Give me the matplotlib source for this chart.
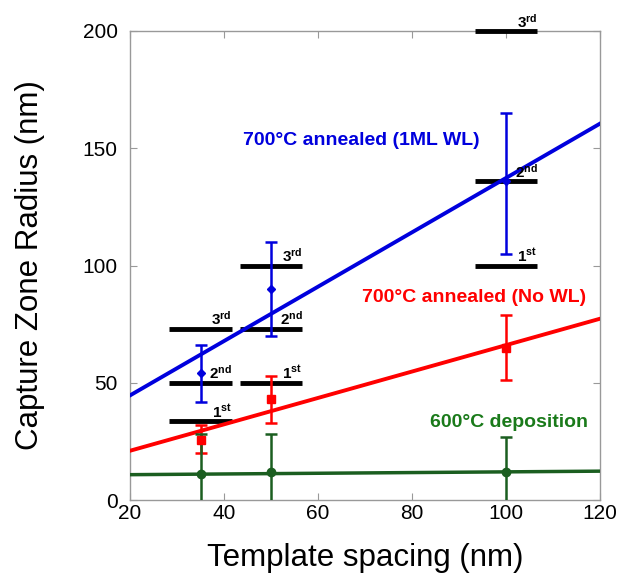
import numpy as np
import matplotlib
matplotlib.use('Agg')
import matplotlib.pyplot as plt

plt.rcParams['font.family'] = ['Liberation Sans', 'DejaVu Sans']
plt.rcParams['mathtext.fontset'] = 'custom'
plt.rcParams['mathtext.rm'] = 'Liberation Sans'
plt.rcParams['mathtext.bf'] = 'Liberation Sans:bold'

# data
spacing = [35, 50, 100]

wl_y = [54, 90, 136]
wl_lo = [42, 70, 105]
wl_hi = [66, 110, 165]

nowl_y = [25.5, 43, 65]
nowl_lo = [20, 33, 51]
nowl_hi = [32, 53, 79]

dep_y = [11, 12, 12]
dep_lo = [-2, -2, -2]
dep_hi = [28, 28, 27]

# linear fits (end points read at x=20 and x=120)
fit_x = [20, 120]
wl_fit = [44.6, 160.5]
nowl_fit = [21, 77.3]
dep_fit = [10.8, 12.3]

# neighbour shell radii for each spacing: 1st, 2nd, 3rd
shells = {35: [33.5, 50, 73], 50: [50, 73, 100], 100: [100, 136, 200]}
shell_names = ['1', '2', '3']
shell_sup = ['st', 'nd', 'rd']

blue = '#0000dd'
red = '#ff0000'
green_line = '#1b5e20'
green_text = '#1a7a1a'

fig = plt.figure(figsize=(6.21, 5.82), dpi=100)
ax = fig.add_axes([130/621, 82/582, 470/621, 469/582])

half = 6.7
for x, ys in shells.items():
    for k, y in enumerate(ys):
        ax.plot([x - half, x + half], [y, y], color='black', lw=3.5,
                solid_capstyle='butt', zorder=2.6, clip_on=False)
        ax.text(x + half, y + 1.6,
                r'$\mathbf{%s^{%s}}$' % (shell_names[k], shell_sup[k]),
                ha='right', va='baseline', fontsize=11, color='black', zorder=5)

def err(y, lo, hi):
    y = np.array(y); return [y - np.array(lo), np.array(hi) - y]

ax.plot(fit_x, wl_fit, color=blue, lw=2.8, zorder=3)
ax.plot(fit_x, nowl_fit, color=red, lw=2.8, zorder=3)
ax.plot(fit_x, dep_fit, color=green_line, lw=2.5, zorder=3)

ax.errorbar(spacing, wl_y, yerr=err(wl_y, wl_lo, wl_hi), fmt='D', ms=4,
            color=blue, ecolor=blue, elinewidth=1.8, capsize=4, capthick=1.8, zorder=4)
ax.errorbar(spacing, nowl_y, yerr=err(nowl_y, nowl_lo, nowl_hi), fmt='s', ms=6,
            color=red, ecolor=red, elinewidth=1.8, capsize=4, capthick=1.8, zorder=4)
ax.errorbar(spacing, dep_y, yerr=err(dep_y, dep_lo, dep_hi), fmt='o', ms=6,
            color=green_line, ecolor=green_line, elinewidth=1.8, capsize=4, capthick=1.8, zorder=4)

ax.text(44, 153.5, '700°C annealed (1ML WL)', color=blue, fontsize=14,
        fontweight='bold', va='center', ha='left')
ax.text(69.3, 86.5, '700°C annealed (No WL)', color=red, fontsize=14,
        fontweight='bold', va='center', ha='left')
ax.text(83.8, 33, '600°C deposition', color=green_text, fontsize=14,
        fontweight='bold', va='center', ha='left')

ax.set_xlim(20, 120)
ax.set_ylim(0, 200)
ax.set_xticks([20, 40, 60, 80, 100, 120])
ax.set_yticks([0, 50, 100, 150, 200])
ax.tick_params(direction='in', length=5, width=0.8, color='#999999',
               top=True, right=True, labelsize=15, pad=3)
ax.tick_params(axis='y', pad=9)
for s in ax.spines.values():
    s.set_color('#999999')
    s.set_linewidth(1.0)
ax.set_xlabel('Template spacing (nm)', fontsize=22.5, labelpad=14)
ax.set_ylabel('Capture Zone Radius (nm)', fontsize=22.5)
ax.yaxis.set_label_coords(-0.181, 0.5)

fig.savefig('out.png', dpi=100)
